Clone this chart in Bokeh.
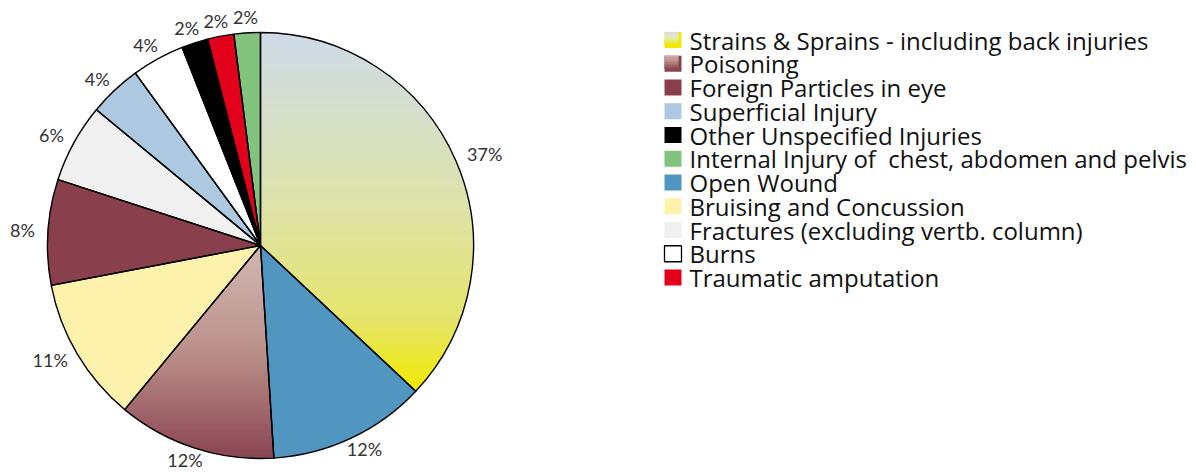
import numpy as np
from bokeh.plotting import figure
from bokeh.models import ColumnDataSource, Range1d
from bokeh.core.properties import value
from bokeh.embed import file_html
from bokeh.resources import INLINE

# ---------------- data (pie order: counter-clockwise from 12 o'clock) -------------
slice_names = [
    "Internal Injury of\u00a0 chest, abdomen and pelvis",
    "Traumatic amputation",
    "Other Unspecified Injuries",
    "Burns",
    "Superficial Injury",
    "Fractures (excluding vertb. column)",
    "Foreign Particles in eye",
    "Bruising and Concussion",
    "Poisoning",
    "Open Wound",
    "Strains & Sprains - including back injuries",
]
slice_values = [2, 2, 2, 4, 4, 6, 8, 11, 12, 12, 37]
slice_labels = ["2%", "2%", "2%", "4%", "4%", "6%", "8%", "11%", "12%", "12%", "37%"]
slice_colors = ["#82c47e", "#e2001a", "#000000", "#ffffff", "#adc9e2", "#f0f0f0",
                "#8a404c", "#fdf2ab", "#bb908a", "#5196c0", "#dfe3a0"]

legend_names = [
    "Strains & Sprains - including back injuries",
    "Poisoning",
    "Foreign Particles in eye",
    "Superficial Injury",
    "Other Unspecified Injuries",
    "Internal Injury of\u00a0 chest, abdomen and pelvis",
    "Open Wound",
    "Bruising and Concussion",
    "Fractures (excluding vertb. column)",
    "Burns",
    "Traumatic amputation",
]

# gradient fills (top -> bottom) for two slices
gradients = {
    "Strains & Sprains - including back injuries":
        [(0.0, "#cfdbe9"), (0.5, "#dee3a6"), (0.8, "#e5e56c"), (1.0, "#f2ea00")],
    "Poisoning":
        [(0.0, "#d2b9b3"), (0.5, "#bb908a"), (1.0, "#8a4553")],
}
legend_grad = {
    "Strains & Sprains - including back injuries":
        [(0.0, "#dcdaea"), (0.5, "#e2ecb0"), (1.0, "#f2ea00")],
    "Poisoning":
        [(0.0, "#d4aeaa"), (0.5, "#b78884"), (1.0, "#8a4553")],
}

# ---------------- geometry ----------------
W, H = 1196, 473
CX, CY, R = 260, 228, 213


def hex2rgb(h):
    h = h.lstrip("#")
    return np.array([int(h[i:i + 2], 16) for i in (0, 2, 4)], dtype=float)


def grad_color(stops, t):
    t = min(max(t, 0.0), 1.0)
    for (t0, c0), (t1, c1) in zip(stops[:-1], stops[1:]):
        if t <= t1:
            f = 0 if t1 == t0 else (t - t0) / (t1 - t0)
            c = hex2rgb(c0) * (1 - f) + hex2rgb(c1) * f
            return "#%02x%02x%02x" % tuple(int(round(v)) for v in c)
    return stops[-1][1]


def clip_poly(pts, inside, inter):
    out = []
    n = len(pts)
    for i in range(n):
        cur, prev = pts[i], pts[i - 1]
        if inside(cur):
            if not inside(prev):
                out.append(inter(prev, cur))
            out.append(cur)
        elif inside(prev):
            out.append(inter(prev, cur))
    return out


def y_inter(yc):
    def f(a, b):
        t = (yc - a[1]) / (b[1] - a[1])
        return (a[0] + t * (b[0] - a[0]), yc)
    return f


def clip_band(pts, ylo, yhi):
    pts = clip_poly(pts, lambda p: p[1] >= ylo, y_inter(ylo))
    if pts:
        pts = clip_poly(pts, lambda p: p[1] <= yhi, y_inter(yhi))
    return pts


total = float(sum(slice_values))
fr = np.array(slice_values) / total
cum = np.concatenate([[0], np.cumsum(fr)])
start = np.pi / 2 + 2 * np.pi * cum[:-1]
end = np.pi / 2 + 2 * np.pi * cum[1:]

p = figure(width=W, height=H, output_backend="svg", toolbar_location=None,
           x_range=Range1d(0, W), y_range=Range1d(0, H), min_border=0)
p.axis.visible = False
p.grid.visible = False
p.outline_line_color = None
p.background_fill_color = "white"
p.border_fill_color = "white"

src = ColumnDataSource(dict(x=[CX] * len(slice_values), y=[CY] * len(slice_values),
                            start=start, end=end, color=slice_colors, name=slice_names))
p.wedge(x="x", y="y", radius=R, start_angle="start", end_angle="end", source=src,
        fill_color="color", line_color=None)

# gradient slices drawn as horizontal bands
bx, by, bc = [], [], []
for i, nm in enumerate(slice_names):
    if nm not in gradients:
        continue
    angs = np.linspace(start[i], end[i], 200)
    poly = [(CX, CY)] + [(CX + R * np.cos(a), CY + R * np.sin(a)) for a in angs]
    ys = [q[1] for q in poly]
    ymin, ymax = min(ys), max(ys)
    nb = 90
    edges = np.linspace(ymax, ymin, nb + 1)
    for k in range(nb):
        yhi, ylo = edges[k] + 0.6, edges[k + 1]
        band = clip_band(poly, ylo, yhi)
        if len(band) < 3:
            continue
        t = (ymax - (edges[k] + edges[k + 1]) / 2) / (ymax - ymin)
        bx.append([q[0] for q in band])
        by.append([q[1] for q in band])
        bc.append(grad_color(gradients[nm], t))
p.patches(xs=bx, ys=by, fill_color=bc, line_color=None)

p.wedge(x="x", y="y", radius=R, start_angle="start", end_angle="end", source=src,
        fill_alpha=0, line_color="black", line_width=1.4)

# percentage labels
mid = np.pi / 2 + 2 * np.pi * (cum[:-1] + cum[1:]) / 2
lx, ly = [], []
for i, lab in enumerate(slice_labels):
    dx, dy = np.cos(mid[i]), np.sin(mid[i])
    w = 11.5 * len(lab)
    lx.append(CX + (R + 14) * dx + w / 2 * dx)
    ly.append(CY + (R + 14) * dy + 1.5)
p.text(x=lx, y=ly, text=slice_labels, text_align="center", text_baseline="middle",
       text_font=value("Lato"), text_font_size="18px", text_color="#333333")

# legend
color_of = dict(zip(slice_names, slice_colors))
SX0, SW, SH = 664, 17, 16
row_top = 433.5
step = 23.75
sx, sy, sc, sl = [], [], [], []
gx, gy, gw, gh, gcol = [], [], [], [], []
for j, nm in enumerate(legend_names):
    yc = row_top - step * j
    if nm in legend_grad:
        stops = legend_grad[nm]
        gx.append(SX0 + SW / 2); gy.append(yc); gw.append(SW); gh.append(SH)
        gcol.append(stops[-1][1])
        nb = 8
        iw, ih = SW - 3, SH - 3
        for k in range(nb):
            t = (k + 0.5) / nb
            gx.append(SX0 + iw / 2)
            gy.append(yc + SH / 2 - (k + 0.5) * ih / nb)
            gw.append(iw); gh.append(ih / nb + 0.5)
            gcol.append(grad_color(stops, t))
    else:
        sx.append(SX0 + SW / 2); sy.append(yc); sc.append(color_of[nm])
        sl.append("black" if nm == "Burns" else None)
p.rect(x=gx, y=gy, width=gw, height=gh, fill_color=gcol, line_color=None)
p.rect(x=sx, y=sy, width=SW, height=SH, fill_color=sc, line_color=sl, line_width=1.3)

tx = [689] * len(legend_names)
ty = [row_top - step * j for j in range(len(legend_names))]
p.text(x=tx, y=ty, text=legend_names, text_align="left", text_baseline="alphabetic",
       text_font=value("Open Sans"), text_font_size="24px", text_color="#111111")

open("out.html", "w").write(file_html(p, INLINE))
